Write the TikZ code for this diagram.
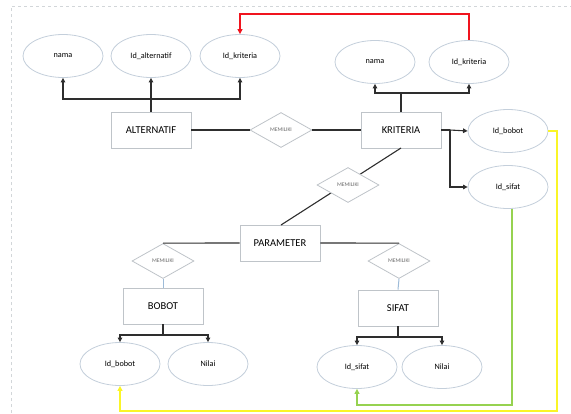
\documentclass[tikz,border=0pt]{standalone}
\usepackage{fontspec}
\setmainfont{Carlito}
\usetikzlibrary{shapes.geometric,arrows.meta}
\definecolor{shapeline}{HTML}{C4CFDB}
\definecolor{boxline}{HTML}{BFC4C9}
\definecolor{linkline}{HTML}{2E2E2E}
\definecolor{diatext}{HTML}{6A6A6A}
\definecolor{fkred}{HTML}{F0141E}
\definecolor{fkyellow}{HTML}{FAF528}
\definecolor{fkgreen}{HTML}{96D250}
\definecolor{bluelink}{HTML}{9DBBD8}
\tikzset{
  attr/.style={ellipse,draw=shapeline,line width=0.8pt,fill=white,minimum width=80pt,minimum height=43pt,inner sep=0pt,font=\fontsize{8.2}{9}\selectfont},
  entity/.style={rectangle,draw=boxline,line width=0.8pt,fill=white,minimum width=80pt,minimum height=36pt,inner sep=0pt,font=\fontsize{10.5}{12}\selectfont},
  rel/.style={diamond,draw=boxline,line width=0.8pt,fill=white,aspect=1.8,minimum width=62pt,minimum height=35pt,inner sep=0pt,font=\fontsize{5.6}{6}\selectfont,text=diatext},
  link/.style={draw=linkline,line width=1.1pt},
  arr/.style={link,-{Triangle[length=4.5pt,width=4.5pt]}},
  fk/.style={line width=1.3pt,-{Triangle[length=5pt,width=5pt]}}
}
\begin{document}
\begin{tikzpicture}[x=1pt,y=-1pt]
\useasboundingbox (0,0) rectangle (571,413);
\draw[boxline!70,dashed,line width=0.5pt] (11,413) -- (11,6) -- (571,6);

% entities
\node[entity] (alt) at (151,130) {ALTERNATIF};
\node[entity] (kri) at (401,130) {KRITERIA};
\node[entity] (par) at (280,243) {PARAMETER};
\node[entity] (bob) at (163,306) {BOBOT};
\node[entity] (sif) at (398,308) {SIFAT};

% attributes
\node[attr] (anama) at (63,56) {nama};
\node[attr] (aida) at (151,56) {Id\_alternatif};
\node[attr] (aidk) at (240,56) {Id\_kriteria};
\node[attr] (knama) at (375,62) {nama};
\node[attr] (kidk) at (469,62) {Id\_kriteria};
\node[attr] (kidb) at (508,131) {Id\_bobot};
\node[attr] (kids) at (508,187) {Id\_sifat};
\node[attr] (bidb) at (120,364) {Id\_bobot};
\node[attr] (bnil) at (208,364) {Nilai};
\node[attr] (sids) at (357,367) {Id\_sifat};
\node[attr] (snil) at (442,367) {Nilai};

% relationship diamonds
\coordinate (kp) at (401,148);
\coordinate (pp) at (281,225);
\draw[link] (kp) -- (pp);
\node[rel] (m1) at (281,130) {MEMILIKI};
\node[rel] (m2) at (348,185) {MEMILIKI};
\node[rel] (m3) at (163,261) {MEMILIKI};
\node[rel] (m4) at (399,261) {MEMILIKI};

% ALTERNATIF attributes
\coordinate (ab) at (151,99);
\draw[link] (alt.north) -- (ab);
\draw[arr] (ab) -| (anama.south);
\draw[arr] (ab) -- (aida.south);
\draw[arr] (ab) -| (aidk.south);

% KRITERIA attributes
\coordinate (kb) at (401,93);
\draw[link] (kri.north) -- (kb);
\draw[arr] (kb) -| (knama.south);
\draw[arr] (kb) -| (kidk.south);
\coordinate (kr) at (450,130);
\draw[link] (kri.east) -- (kr);
\draw[arr] (kr) -- (kidb.west);
\draw[arr] (kr) |- (kids.west);

% relationships
\draw[link] (alt.east) -- (m1.west);
\draw[link] (m1.east) -- (kri.west);
\draw[link] (par.west) -- (m3.north);
\draw[link] (par.east) -- (m4.north);
\draw[bluelink,line width=1pt] (m3.south) -- (bob.north);
\draw[bluelink,line width=1pt] (m4.south) -- (sif.north);

% BOBOT attributes
\coordinate (bb) at (163,335);
\draw[link] (bob.south) -- (bb);
\draw[arr] (bb) -| (bidb.north);
\draw[arr] (bb) -| (bnil.north);

% SIFAT attributes
\coordinate (sb) at (398,337);
\draw[link] (sif.south) -- (sb);
\draw[arr] (sb) -| (sids.north);
\draw[arr] (sb) -| (snil.north);

% foreign key links
\coordinate (r1) at (469,14);
\draw[fk,fkred] (kidk.north) -- (r1) -| (aidk.north);
\coordinate (y1) at (557,131);
\coordinate (y2) at (557,411);
\draw[fk,fkyellow] (kidb.east) -- (y1) -- (y2) -| (bidb.south);
\coordinate (g1) at (512,405);
\draw[fk,fkgreen] (kids.south -| g1) -- (g1) -| (sids.south);
\end{tikzpicture}
\end{document}
